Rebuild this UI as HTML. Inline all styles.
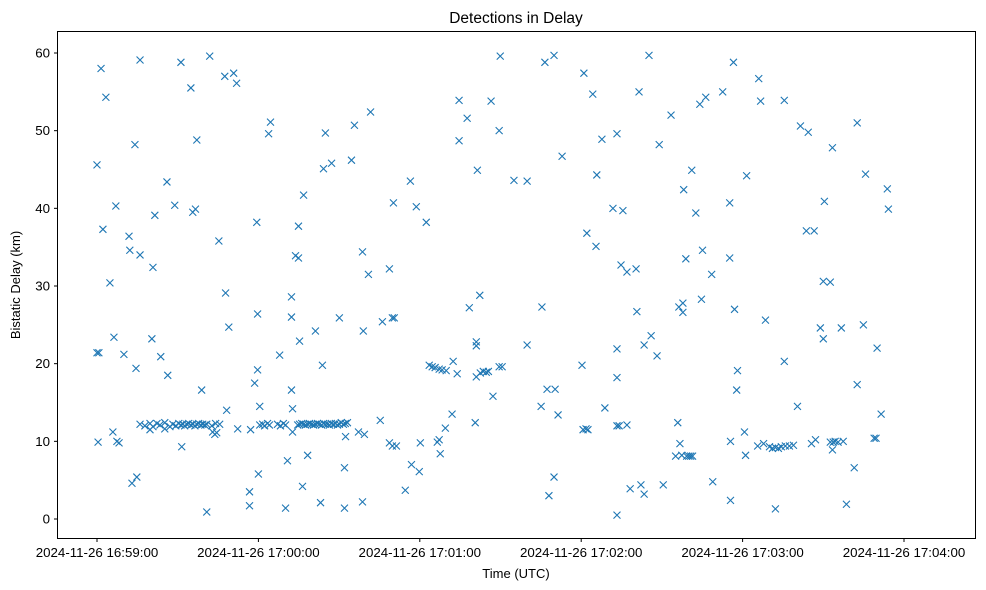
<!DOCTYPE html>
<html><head><meta charset="utf-8"><style>
html,body{margin:0;padding:0;background:#fff}
svg{display:block;font-family:"Liberation Sans","DejaVu Sans",sans-serif}
</style></head><body>
<svg id="chart" width="986" height="590" viewBox="0 0 986 590">
<rect x="0" y="0" width="986" height="590" fill="#fff"/>
<text x="516" y="23" text-anchor="middle" font-size="15.5">Detections in Delay</text>
<g id="marks"></g>
<rect x="57.5" y="31.5" width="918" height="507" fill="none" stroke="#000" stroke-width="1"/>
<g id="xaxis"></g>
<g id="yaxis"></g>
<text x="516" y="578" text-anchor="middle" font-size="13">Time (UTC)</text>
<text transform="translate(20,285) rotate(-90)" text-anchor="middle" font-size="13">Bistatic Delay (km)</text>
</svg>
<script>
// seconds after 2024-11-26 16:59:00
const times = [0,1.5,3.3,2.2,0,0.7,0.4,4.8,7.0,6.3,5.9,7.4,8.2,10,11.9,12.2,14.5,13,14.8,16,14.1,16,20.8,21.5,26,20.4,23.7,26.3,28.9,31.2,34.9,36.6,35.6,37.1,41.9,47.5,50.8,51.9,45.3,47.8,49,38.9,48.2,31.5,40.8,52.3,43,43.8,44.5,19.7,25.2,
16,17.8,19.7,20.8,22.3,23.4,25.2,27.1,28.2,29.3,30.4,31.2,31.9,32.6,33.4,34.1,34.9,35.6,36.4,37.1,37.8,38.6,39.3,40.1,40.8,42.7,44.1,45.6,
60.5,61.6,62.3,63.4,64.1,67.1,68.2,69.3,70.1,
74.6,75.3,76.1,76.8,77.5,78.3,79.0,79.8,80.5,81.2,82.0,82.7,83.5,84.2,84.9,85.7,86.4,87.1,87.9,88.6,89.4,90.1,90.8,91.6,92.3,93.1,
59.4,59.7,59.7,58.6,60.5,60,56.7,56.7,63.8,64.5,57.1,67.9,70.1,70.8,72.3,72.3,72.3,72.7,72.7,73.8,74.9,74.9,75.3,76.8,76.4,78.3,81.2,83.1,83.8,84.9,84.2,87.2,90.1,92,92,92.4,94.6,95.7,98.7,99,98.7,100.9,101.7,97.2,99.4,105.3,106.1,108.7,109.8,110.5,110.2,108.7,109.8,111.3,114.6,116.5,116.9,118.7,119.8,120.2,122.4,126.5,127.2,127.6,129.5,132.0,132.4,133.9,123.5,124.6,125.7,127.2,128.3,129.8,134.6,134.6,137.6,138.4,141,141.4,141,141,140.6,142.5,143.6,144.7,145.5,142.3,146.5,147.2,149.5,149.9,149.5,150.6,155,159.9,159.9,165.1,165.4,166.5,169.9,167.3,170.3,168,169.9,171.4,172.9,
181,184.3,182.1,185.5,185.8,187.7,180.3,180.7,181.8,182.5,188.8,191.8,193.3,193.3,193.3,193.3,194.1,193.3,195.5,194.8,197,197,198.2,200.4,200.7,201.5,202.2,203.4,203.4,205.2,206,208.2,209,210.5,213.4,215.1,216.3,215.9,216.7,217.8,217.8,218.1,218.9,219.2,220,220.7,221.4,217.4,221.1,222.6,224.1,225.1,224.7,226.3,228.5,228.9,232.6,235.2,235.2,235.5,235.5,236.6,237,237.8,238.1,240.7,241.1,241.5,245.6,247.8,246,246.7,248.5,250,251.1,252.2,253.3,254.4,255.9,257.4,258.9,252.2,255.5,255.5,260.4,261.5,263.7,264.4,266.6,265.6,267.1,268.9,270,270.4,270,272.6,273.4,272.6,273.7,274.4,275.5,277.4,273.4,276.7,278.6,281.5,282.6,282.6,284.9,285.7,288.9,289.6,290,291.5,293.8,294.2];
const delays = [45.6,58.0,54.3,37.3,21.4,21.4,9.9,30.4,40.3,23.4,11.2,10.0,9.8,21.2,36.4,34.6,19.4,4.6,5.4,59.1,48.2,34.0,32.4,39.1,43.4,23.2,20.9,18.5,40.4,58.8,55.5,39.9,39.5,48.8,59.6,57.0,57.4,56.1,35.8,29.1,24.7,16.6,14.0,9.3,0.9,11.6,11.2,10.9,11.1,11.5,11.6,
12.2,12.0,12.3,11.9,12.3,12.1,12.4,11.9,12.2,12.0,12.3,12.1,12.2,12.0,12.2,12.3,12.1,12.2,12.0,12.2,12.3,12.1,12.2,12.1,12.2,12.0,12.3,12.2,
12.1,12.2,12.0,12.3,12.1,12.2,12.0,12.3,12.1,
12.1,12.2,12.3,12.2,12.1,12.2,12.3,12.2,12.1,12.2,12.3,12.2,12.1,12.3,12.2,12.2,12.1,12.3,12.2,12.3,12.1,12.2,12.4,12.2,12.3,12.4,
38.2,26.4,19.2,17.5,14.5,5.8,3.5,1.7,49.6,51.1,11.5,21.1,1.4,7.5,28.6,26.0,16.6,14.2,11.2,33.9,33.6,37.7,22.9,41.7,4.2,8.2,24.2,2.1,19.8,49.7,45.1,45.8,25.9,1.4,6.6,10.6,46.2,50.7,2.2,24.2,34.4,31.5,52.4,11.2,10.9,12.7,25.4,32.2,25.9,25.9,40.7,9.8,9.4,9.4,3.7,43.5,7.0,40.2,6.1,9.8,38.2,9.9,10.2,8.4,11.7,13.5,20.3,18.7,19.8,19.6,19.5,19.3,19.2,19.1,53.9,48.7,51.6,27.2,18.3,44.9,22.3,22.8,12.4,18.8,19.0,18.9,19.0,28.8,53.8,15.8,50.0,59.6,19.6,19.6,43.6,43.5,22.4,14.5,27.3,58.8,59.7,16.7,16.7,3.0,5.4,13.4,46.7,
57.4,54.7,36.8,35.1,44.3,48.9,19.8,11.5,11.6,11.5,14.3,40.0,49.6,21.9,18.2,12.0,12.0,0.5,39.7,32.7,31.8,12.1,3.9,32.2,26.7,55.0,4.4,3.2,22.4,59.7,23.6,21.0,48.2,4.4,52.0,8.1,27.3,12.4,9.7,26.6,27.8,42.4,33.5,8.1,8.1,8.1,8.1,8.2,44.9,39.4,53.4,34.6,28.3,54.3,31.5,4.8,55.0,33.6,40.7,10.0,2.4,58.8,27.0,16.6,19.1,11.2,8.2,44.2,9.4,9.7,56.7,53.8,25.6,9.3,9.1,9.2,9.1,9.3,9.4,9.4,9.5,1.3,53.9,20.3,14.5,50.6,37.1,49.8,37.1,9.7,10.2,24.6,23.2,40.9,30.6,30.5,47.8,9.9,9.9,10.0,9.9,10.0,8.9,24.6,1.9,6.6,51.0,17.3,25.0,44.4,10.4,10.4,22.0,13.5,42.5,39.9];
const xTickSecs = [0,60,120,180,240,300];
const xTickLabels = ["2024-11-26 16:59:00","2024-11-26 17:00:00","2024-11-26 17:01:00","2024-11-26 17:02:00","2024-11-26 17:03:00","2024-11-26 17:04:00"];
const yTicks = [0,10,20,30,40,50,60];

const NS="http://www.w3.org/2000/svg";
function xScale(s){return 97 + s*(807/300);}
function yScale(v){return 519 - v*(466/60);}
const marks=document.getElementById('marks');
for(let i=0;i<times.length;i++){
  const cx=xScale(times[i]), cy=yScale(delays[i]), r=3.5;
  const p=document.createElementNS(NS,'path');
  p.setAttribute('d',`M${cx-r},${cy-r}L${cx+r},${cy+r}M${cx-r},${cy+r}L${cx+r},${cy-r}`);
  p.setAttribute('stroke','#1f77b4');p.setAttribute('stroke-width','1.1');p.setAttribute('fill','none');
  
  
  marks.appendChild(p);
}
const xa=document.getElementById('xaxis');
xTickSecs.forEach((s,i)=>{
  const x=xScale(s);
  const l=document.createElementNS(NS,'line');
  l.setAttribute('x1',x);l.setAttribute('x2',x);l.setAttribute('y1',538.5);l.setAttribute('y2',542);l.setAttribute('stroke','#000');
  
  
  xa.appendChild(l);
  const t=document.createElementNS(NS,'text');
  t.setAttribute('x',x);t.setAttribute('y',557);t.setAttribute('text-anchor','middle');t.setAttribute('font-size','13.3');
  t.textContent=xTickLabels[i];
  
  
  xa.appendChild(t);
});
const ya=document.getElementById('yaxis');
yTicks.forEach(v=>{
  const y=yScale(v);
  const l=document.createElementNS(NS,'line');
  l.setAttribute('x1',54);l.setAttribute('x2',57.5);l.setAttribute('y1',y);l.setAttribute('y2',y);l.setAttribute('stroke','#000');
  
  
  ya.appendChild(l);
  const t=document.createElementNS(NS,'text');
  t.setAttribute('x',50);t.setAttribute('y',y+4.5);t.setAttribute('text-anchor','end');t.setAttribute('font-size','13.3');
  t.textContent=String(v);
  
  
  ya.appendChild(t);
});
</script>
</body></html>
